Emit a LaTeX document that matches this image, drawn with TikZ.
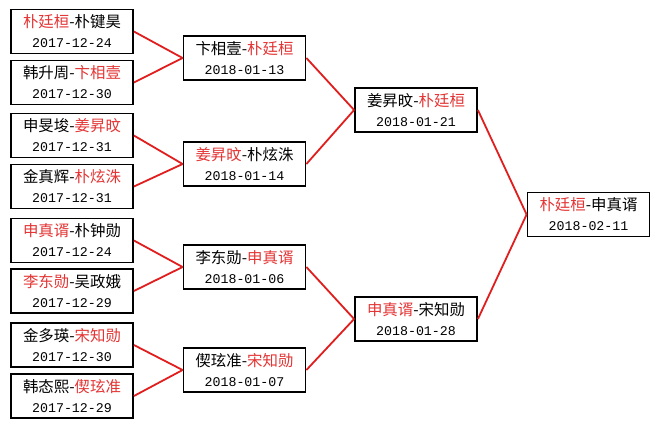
\documentclass[tikz,border=0pt]{standalone}
\usepackage{fontspec}
\setmainfont{Liberation Mono}
\newfontfamily\cjk[Scale=1.16]{Noto Sans CJK SC}
\definecolor{winred}{RGB}{225,30,30}
\definecolor{namered}{RGB}{228,52,52}
\newcommand{\win}[1]{\textcolor{namered}{#1}}
\begin{document}
\begin{tikzpicture}[
    x=1pt, y=-1pt,
    box/.style={rectangle, draw, line width=1.8pt, minimum width=122pt, minimum height=44pt,
                inner sep=0pt, align=center, font=\fontsize{13.3}{20}\selectfont},
    link/.style={draw=winred, line width=1.8pt}
]
\useasboundingbox[fill=white] (0,0) rectangle (660,429);

% Round 1
\node[box] (r1a) at (72,31.5)  {{\cjk\win{朴廷桓}-朴键昊}\\2017-12-24};
\node[box] (r1b) at (72,82.5)  {{\cjk 韩升周-\win{卞相壹}}\\2017-12-30};
\node[box] (r1c) at (72,135.5) {{\cjk 申旻埈-\win{姜昇旼}}\\2017-12-31};
\node[box] (r1d) at (72,186.5) {{\cjk 金真辉-\win{朴炫洙}}\\2017-12-31};
\node[box] (r1e) at (72,240.5) {{\cjk\win{申真谞}-朴钟勋}\\2017-12-24};
\node[box] (r1f) at (72,291)   {{\cjk\win{李东勋}-吴政娥}\\2017-12-29};
\node[box] (r1g) at (72,345)   {{\cjk 金多瑛-\win{宋知勋}}\\2017-12-30};
\node[box] (r1h) at (72,396)   {{\cjk 韩态熙-\win{偰玹准}}\\2017-12-29};

% Round 2
\node[box] (r2a) at (244.5,58)  {{\cjk 卞相壹-\win{朴廷桓}}\\2018-01-13};
\node[box] (r2b) at (244.5,164) {{\cjk\win{姜昇旼}-朴炫洙}\\2018-01-14};
\node[box] (r2c) at (244.5,267) {{\cjk 李东勋-\win{申真谞}}\\2018-01-06};
\node[box] (r2d) at (244.5,370) {{\cjk 偰玹准-\win{宋知勋}}\\2018-01-07};

% Semi-finals
\node[box] (semia) at (416,110) {{\cjk 姜昇旼-\win{朴廷桓}}\\2018-01-21};
\node[box] (semib) at (416,319) {{\cjk\win{申真谞}-宋知勋}\\2018-01-28};

% Final
\node[box] (final) at (588.5,214.5) {{\cjk\win{朴廷桓}-申真谞}\\2018-02-11};

% Links
\draw[link] (r1a.east) -- (r2a.west);
\draw[link] (r1b.east) -- (r2a.west);
\draw[link] (r1c.east) -- (r2b.west);
\draw[link] (r1d.east) -- (r2b.west);
\draw[link] (r1e.east) -- (r2c.west);
\draw[link] (r1f.east) -- (r2c.west);
\draw[link] (r1g.east) -- (r2d.west);
\draw[link] (r1h.east) -- (r2d.west);
\draw[link] (r2a.east) -- (semia.west);
\draw[link] (r2b.east) -- (semia.west);
\draw[link] (r2c.east) -- (semib.west);
\draw[link] (r2d.east) -- (semib.west);
\draw[link] (semia.east) -- (final.west);
\draw[link] (semib.east) -- (final.west);
\end{tikzpicture}
\end{document}
